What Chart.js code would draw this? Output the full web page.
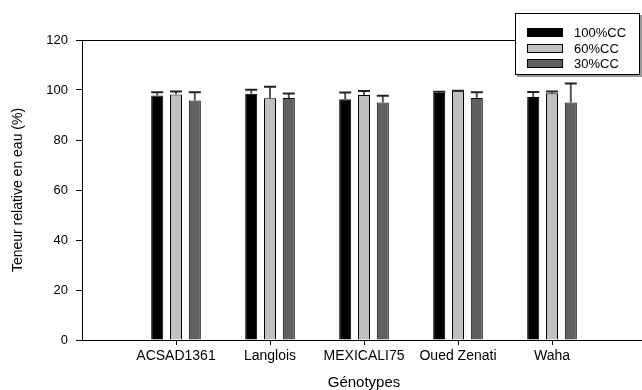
<!DOCTYPE html>
<html>
<head>
<meta charset="utf-8">
<script src="https://cdn.jsdelivr.net/npm/chart.js@4/dist/chart.umd.min.js"></script>
<style>
  html, body { margin: 0; padding: 0; background: #fff; overflow: hidden; }
  #wrap { position: relative; width: 642px; height: 390px; overflow: hidden; }
  #legend {
    position: absolute; left: 515px; top: 13px; width: 125px; height: 62px;
    box-sizing: border-box; border: 1px solid #000; background: #fff;
    box-shadow: 2px 2px 0 #999; font: 13px "Liberation Sans", Arial, sans-serif;
    padding-top: 11px;
  }
  .row { display: flex; align-items: center; height: 15.5px; }
  .sw { width: 34px; height: 7px; border: 1px solid #000; margin-left: 11px; margin-right: 11px; }
</style>
</head>
<body>
<div id="wrap">
  <canvas id="chart" width="660" height="390"></canvas>
  <div id="legend"></div>
</div>
<script>
const genotypes = ['ACSAD1361', 'Langlois', 'MEXICALI75', 'Oued Zenati', 'Waha'];
const seriesNames = ['100%CC', '60%CC', '30%CC'];
const seriesColors = ['#000000', '#c0c0c0', '#606060'];

// mean values per genotype
const cc100 = [97.8, 98.5, 96.3, 98.8, 97.2];
const cc60 = [98.2, 96.7, 98.0, 99.5, 98.7];
const cc30 = [95.8, 96.8, 95.0, 96.8, 95.0];

// upper error bar lengths
const err100 = [1.3, 1.6, 2.7, 0.5, 2.0];
const err60 = [1.2, 4.6, 1.6, 0.2, 0.7];
const err30 = [3.3, 1.8, 2.7, 2.3, 7.6];

const yTicks = [0, 20, 40, 60, 80, 100, 120];

// pad with an empty slot on each side so the axis runs past the groups
const pad = arr => [null, ...arr, null];
const labels = ['', ...genotypes, ''];
const values = [cc100, cc60, cc30];
const errors = [err100, err60, err30];

const FONT = '"Liberation Sans", Arial, sans-serif';

const errorBars = {
  id: 'errorBars',
  afterDatasetsDraw(chart) {
    const ctx = chart.ctx;
    const y = chart.scales.y;
    ctx.save();
    chart.data.datasets.forEach((ds, i) => {
      const meta = chart.getDatasetMeta(i);
      meta.data.forEach((bar, j) => {
        const v = ds.data[j];
        const e = ds.errors[j];
        if (v == null || e == null) return;
        const top = y.getPixelForValue(v + e);
        const half = bar.width / 2;
        ctx.strokeStyle = '#555';
        ctx.lineWidth = 2;
        ctx.beginPath();
        ctx.moveTo(bar.x, bar.y);
        ctx.lineTo(bar.x, top);
        ctx.stroke();
        ctx.strokeStyle = '#222';
        ctx.beginPath();
        ctx.moveTo(bar.x - half, top);
        ctx.lineTo(bar.x + half, top);
        ctx.stroke();
      });
    });
    ctx.restore();
  }
};

// top frame line and x tick marks under each genotype only
const frame = {
  id: 'frame',
  afterDraw(chart) {
    const { ctx, chartArea } = chart;
    const x = chart.scales.x;
    ctx.save();
    ctx.strokeStyle = '#000';
    ctx.lineWidth = 1;
    ctx.beginPath();
    ctx.moveTo(chartArea.left, chartArea.top + 0.5);
    ctx.lineTo(chartArea.right, chartArea.top + 0.5);
    labels.forEach((lab, i) => {
      if (!lab) return;
      const px = Math.round(x.getPixelForValue(i)) + 0.5;
      ctx.moveTo(px, chartArea.bottom);
      ctx.lineTo(px, chartArea.bottom + 5);
    });
    ctx.stroke();
    ctx.restore();
  }
};

new Chart(document.getElementById('chart').getContext('2d'), {
  type: 'bar',
  data: {
    labels: labels,
    datasets: seriesNames.map((name, i) => ({
      label: name,
      data: pad(values[i]),
      errors: pad(errors[i]),
      backgroundColor: seriesColors[i],
      borderColor: '#000',
      borderWidth: 1,
      categoryPercentage: 0.6,
      barPercentage: 0.64
    }))
  },
  options: {
    responsive: false,
    animation: false,
    devicePixelRatio: 1,
    layout: { padding: { left: 0, right: 14, top: 40, bottom: 0 } },
    plugins: {
      legend: { display: false },
      tooltip: { enabled: false }
    },
    scales: {
      x: {
        offset: false,
        grid: { offset: false, drawOnChartArea: false, drawTicks: false },
        border: { color: '#000', width: 1 },
        ticks: { color: '#000', font: { family: FONT, size: 14 }, padding: 8, maxRotation: 0, autoSkip: false },
        title: {
          display: true, text: 'Génotypes', color: '#000',
          font: { family: FONT, size: 15, lineHeight: 1 }, padding: { top: 0, bottom: 0 }
        },
        afterFit: s => { s.height = 50; }
      },
      y: {
        min: yTicks[0],
        max: yTicks[yTicks.length - 1],
        afterBuildTicks: s => { s.ticks = yTicks.map(v => ({ value: v })); },
        grid: { drawOnChartArea: false, tickLength: 6, tickColor: '#000' },
        border: { color: '#000', width: 1 },
        ticks: { color: '#000', font: { family: FONT, size: 13 }, padding: 8 },
        title: {
          display: true, text: 'Teneur relative en eau (%)', color: '#000',
          font: { family: FONT, size: 14 }, padding: { top: 10, bottom: 0 }
        },
        afterFit: s => { s.width = 82; }
      }
    }
  },
  plugins: [errorBars, frame]
});

const legend = document.getElementById('legend');
seriesNames.forEach((name, i) => {
  const row = document.createElement('div');
  row.className = 'row';
  const sw = document.createElement('span');
  sw.className = 'sw';
  sw.style.background = seriesColors[i];
  const txt = document.createElement('span');
  txt.textContent = name;
  row.appendChild(sw);
  row.appendChild(txt);
  legend.appendChild(row);
});
</script>
</body>
</html>
